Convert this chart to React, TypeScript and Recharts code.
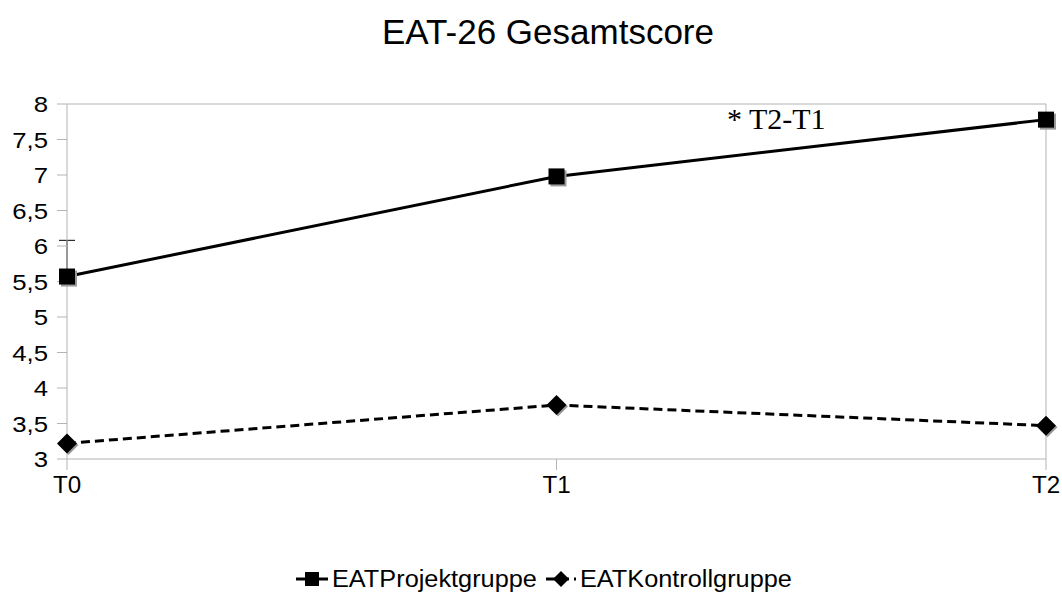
import React from 'react'
import { LineChart, Line, XAxis, YAxis, ErrorBar, ReferenceLine } from 'recharts'

const zeitpunkte = ['T0', 'T1', 'T2']
const projektgruppe = [5.57, 6.98, 7.78]
const kontrollgruppe = [3.22, 3.76, 3.47]
// only T0 carries an (upper) error bar
const projektFehler: ([number, number] | null)[] = [[0, 0.51], null, null]
const yTicks = [3, 3.5, 4, 4.5, 5, 5.5, 6, 6.5, 7, 7.5, 8]

const data = zeitpunkte.map((t, i) => ({
  t,
  projekt: projektgruppe[i],
  kontroll: kontrollgruppe[i],
  err: projektFehler[i],
}))

const FONT = '"Liberation Sans", Arial, sans-serif'
const GRAY = '#b3b3b3'

const SquareDot = (props: any) => {
  const { cx, cy, index } = props
  if (cx == null || cy == null) return <g key={index} />
  return (
    <g key={index}>
      <rect x={cx - 6} y={cy - 6} width={16} height={16} fill="#999" />
      <rect x={cx - 8} y={cy - 8} width={16} height={16} fill="#000" />
    </g>
  )
}

const DiamondDot = (props: any) => {
  const { cx, cy, index } = props
  if (cx == null || cy == null) return <g key={index} />
  const d = (ox: number, oy: number) =>
    `M${cx + ox},${cy + oy - 10} L${cx + ox + 10},${cy + oy} L${cx + ox},${cy + oy + 10} L${cx + ox - 10},${cy + oy} Z`
  return (
    <g key={index}>
      <path d={d(1.5, 1.5)} fill="#999" />
      <path d={d(0, 0)} fill="#000" />
    </g>
  )
}

const YTick = (props: any) => {
  const { x, y, payload } = props
  return (
    <text
      transform={`translate(${x},${y}) scale(1.12,1)`}
      textAnchor="end"
      dy="0.36em"
      fontSize={23}
      fontFamily={FONT}
      fill="#000"
    >
      {String(payload.value).replace('.', ',')}
    </text>
  )
}

const XTick = (props: any) => {
  const { x, y, payload } = props
  return (
    <text
      transform={`translate(${x},${y}) scale(1.05,1)`}
      textAnchor="middle"
      dy="0.71em"
      fontSize={23}
      fontFamily={FONT}
      fill="#000"
    >
      {payload.value}
    </text>
  )
}

const LegendSquare = () => (
  <svg width={32} height={18} style={{ verticalAlign: 'middle' }}>
    <line x1={0} y1={9} x2={32} y2={9} stroke="#000" strokeWidth={3} />
    <rect x={9} y={2} width={14} height={14} fill="#000" />
  </svg>
)

const LegendDiamond = () => (
  <svg width={30} height={18} style={{ verticalAlign: 'middle' }}>
    <line x1={0} y1={9} x2={30} y2={9} stroke="#000" strokeWidth={3} strokeDasharray="9 5" />
    <path d="M15,1 L23,9 L15,17 L7,9 Z" fill="#000" />
  </svg>
)

export default function App() {
  return (
    <div style={{ position: 'absolute', left: 0, top: 0, width: 1062, height: 594, background: '#fff' }}>
      <div
        style={{
          position: 'absolute',
          left: 0,
          width: 1096,
          top: 12,
          textAlign: 'center',
          fontFamily: FONT,
          fontSize: 35,
          lineHeight: '40px',
          color: '#000',
        }}
      >
        EAT-26 Gesamtscore
      </div>

      <LineChart
        width={1062}
        height={594}
        data={data}
        margin={{ top: 104, right: 16, left: 0, bottom: 104 }}
      >
        <XAxis
          dataKey="t"
          stroke={GRAY}
          tickSize={11}
          tickMargin={7}
          height={31}
          tick={<XTick />}
          padding={{ left: 0, right: 0 }}
        />
        <YAxis
          domain={[3, 8]}
          ticks={yTicks}
          interval={0}
          width={67}
          stroke={GRAY}
          tickSize={10}
          tickMargin={9}
          tick={<YTick />}
        />
        <ReferenceLine y={8} stroke={GRAY} strokeWidth={1} />
        <ReferenceLine x="T2" stroke={GRAY} strokeWidth={1} />
        <Line
          dataKey="projekt"
          stroke="#000"
          strokeWidth={3}
          dot={(p: any) => <SquareDot key={p.index} {...p} />}
          isAnimationActive={false}
        >
          <ErrorBar dataKey="err" width={8} stroke="#000" strokeWidth={1} direction="y" />
        </Line>
        <Line
          dataKey="kontroll"
          stroke="#000"
          strokeWidth={3}
          strokeDasharray="9 5"
          dot={(p: any) => <DiamondDot key={p.index} {...p} />}
          isAnimationActive={false}
        />
      </LineChart>

      <div
        style={{
          position: 'absolute',
          left: 727,
          top: 102,
          fontFamily: '"Liberation Serif", "Times New Roman", serif',
          fontSize: 30,
          lineHeight: '34px',
          color: '#000',
        }}
      >
        * T2-T1
      </div>

      <div
        style={{
          position: 'absolute',
          left: 296,
          top: 566,
          display: 'flex',
          alignItems: 'center',
          fontFamily: FONT,
          fontSize: 23,
          lineHeight: '26px',
          color: '#000',
          whiteSpace: 'nowrap',
        }}
      >
        <LegendSquare />
        <span style={{ display: 'inline-block', marginLeft: 4, transform: 'scaleX(1.1)', transformOrigin: 'left center' }}>
          EATProjektgruppe
        </span>
        <span style={{ marginLeft: 28 }} />
        <LegendDiamond />
        <span style={{ display: 'inline-block', marginLeft: 4, transform: 'scaleX(1.1)', transformOrigin: 'left center' }}>
          EATKontrollgruppe
        </span>
      </div>
    </div>
  )
}
